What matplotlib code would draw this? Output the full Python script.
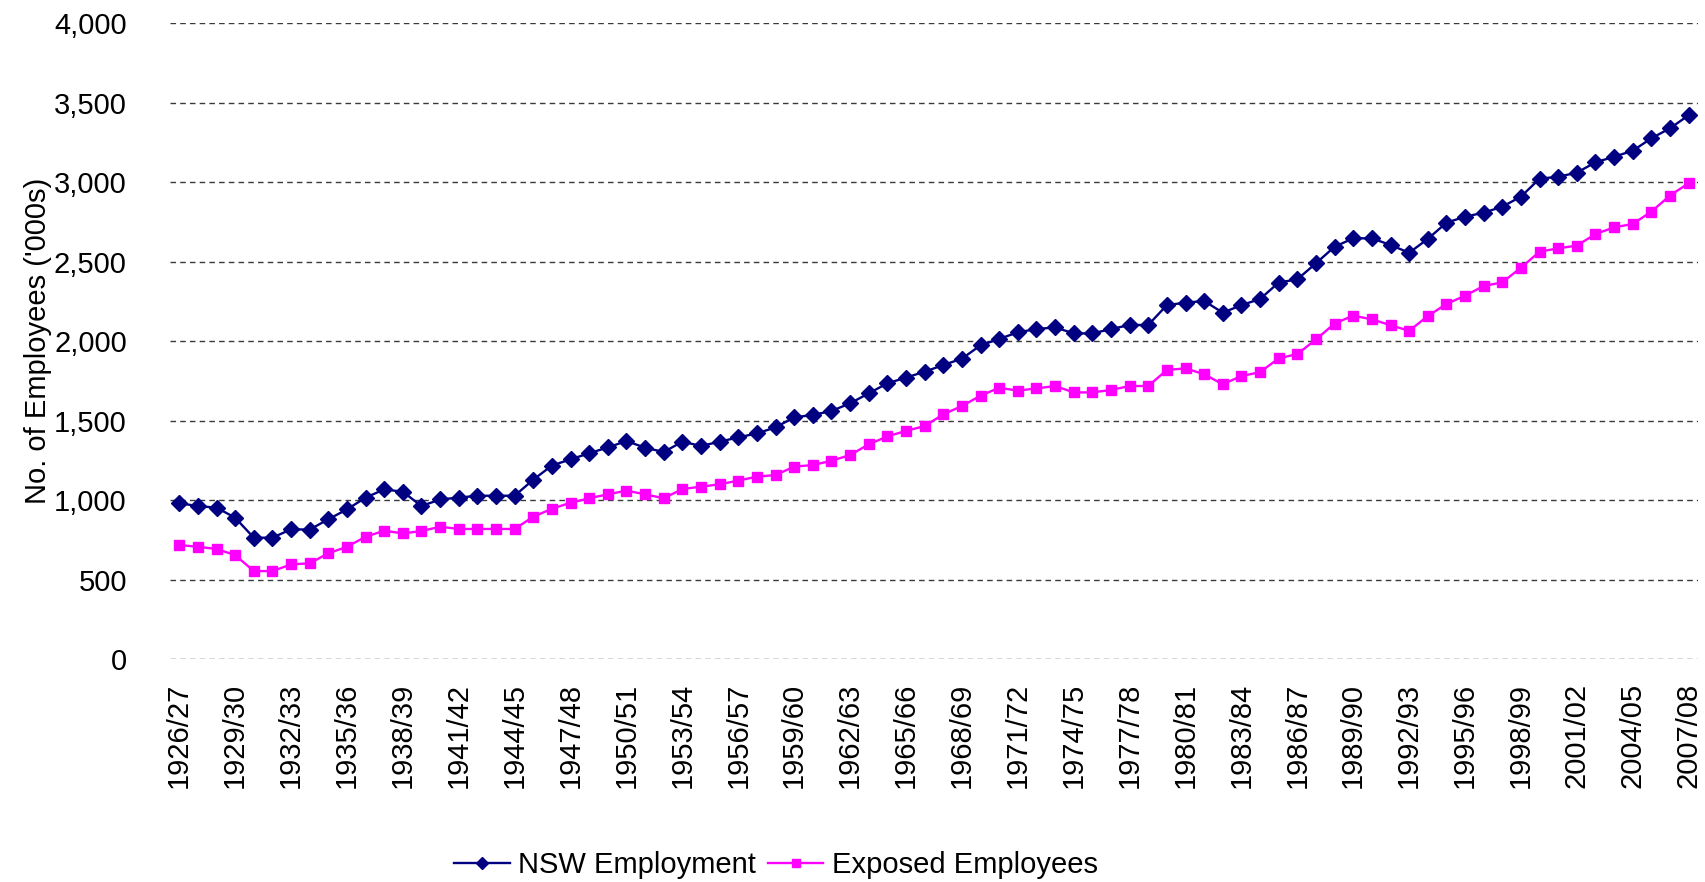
import matplotlib
matplotlib.use("Agg")
import matplotlib.pyplot as plt
import numpy as np

plt.rcParams['font.family'] = ['Liberation Sans', 'DejaVu Sans']

# financial years 1926/27 .. 2007/08
start_years = list(range(1926, 2008))
seasons = [f"{y}/{(y + 1) % 100:02d}" for y in start_years]

nsw_employment = [980, 962, 952, 889, 763, 763, 816, 814, 879, 941,
                  1015, 1067, 1052, 962, 1004, 1015, 1027, 1027, 1027, 1128,
                  1217, 1256, 1294, 1331, 1371, 1329, 1302, 1367, 1340, 1367,
                  1394, 1419, 1457, 1520, 1535, 1560, 1608, 1671, 1734, 1770,
                  1807, 1849, 1889, 1973, 2013, 2055, 2075, 2086, 2048, 2048,
                  2075, 2101, 2101, 2226, 2241, 2252, 2178, 2226, 2264, 2368,
                  2388, 2489, 2593, 2646, 2646, 2604, 2555, 2642, 2744, 2782,
                  2807, 2845, 2908, 3021, 3033, 3059, 3124, 3159, 3197, 3275,
                  3338, 3420]

exposed_employees = [717, 706, 692, 654, 553, 553, 595, 602, 665, 706,
                     769, 807, 790, 805, 832, 818, 818, 818, 818, 895,
                     945, 983, 1011, 1036, 1059, 1036, 1011, 1069, 1084, 1099,
                     1122, 1147, 1157, 1210, 1220, 1247, 1283, 1350, 1400, 1435,
                     1465, 1539, 1591, 1656, 1706, 1688, 1702, 1717, 1677, 1677,
                     1692, 1717, 1717, 1818, 1828, 1791, 1728, 1780, 1804, 1891,
                     1918, 2010, 2110, 2160, 2136, 2100, 2064, 2157, 2233, 2285,
                     2346, 2369, 2461, 2562, 2583, 2600, 2673, 2715, 2736, 2814,
                     2915, 2993]

x = np.arange(len(seasons))

fig = plt.figure(figsize=(17.06, 8.82), dpi=100)
ax = fig.add_axes([0.0996, 0.2528, 0.8957, 0.7211])

ax.plot(x, nsw_employment, color='#000080', lw=1.7, marker='D', ms=8.5,
        label='NSW Employment')
ax.plot(x, exposed_employees, color='#FF00FF', lw=1.7, marker='s', ms=7.5,
        label='Exposed Employees')

ax.set_xlim(-0.5, len(seasons) - 0.5)
ax.set_ylim(0, 4000)
ax.set_yticks(range(0, 4001, 500))
ax.set_yticklabels([f"{v:,}" for v in range(0, 4001, 500)])
ax.set_xticks(x[::3])
ax.set_xticklabels(seasons[::3], rotation=90)

ax.tick_params(axis='both', length=0, labelsize=21)
ax.tick_params(axis='y', pad=31)
ax.tick_params(axis='x', pad=17)
for s in ax.spines.values():
    s.set_visible(False)
ax.grid(axis='y', color='#3a3a3a', linestyle=(0, (4, 3)), linewidth=1)
ax.set_axisbelow(True)

fig.text(0.0223, 0.613, "No. of Employees ('000s)", rotation=90,
         ha='center', va='center', fontsize=21)

fig.legend(loc='center', bbox_to_anchor=(0.455, 0.019), ncol=2, frameon=False,
           fontsize=21, handlelength=1.9, handletextpad=0.3, columnspacing=0.4,
           markerscale=0.75)

fig.savefig('out.png', dpi=100)
